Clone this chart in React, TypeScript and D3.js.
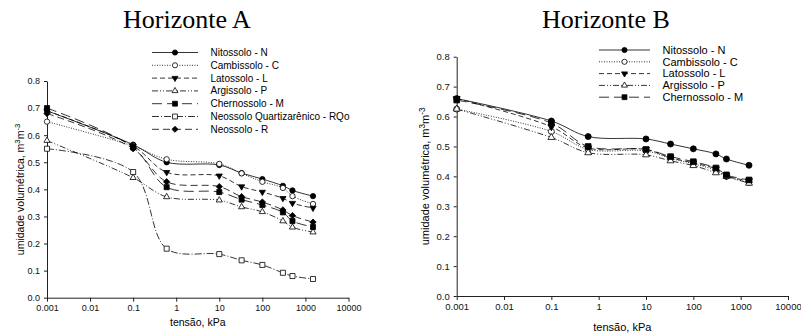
import React, { useEffect, useRef } from "react";
import * as d3 from "d3";

// tension (kPa) where the moisture was measured; 0.001 stands for saturation
const tensions = [0.001, 0.1, 0.6, 10, 33, 100, 300, 500, 1500];
const xTicks = [0.001, 0.01, 0.1, 1, 10, 100, 1000, 10000];
const yTicks = [0, 0.1, 0.2, 0.3, 0.4, 0.5, 0.6, 0.7, 0.8];

// Horizonte A
const legendA = [
  "Nitossolo - N",
  "Cambissolo - C",
  "Latossolo - L",
  "Argissolo - P",
  "Chernossolo - M",
  "Neossolo Quartizarênico - RQo",
  "Neossolo - R",
];
const nitossoloA = [0.69, 0.565, 0.5, 0.49, 0.46, 0.438, 0.413, 0.396, 0.375];
const cambissoloA = [0.65, 0.56, 0.511, 0.494, 0.459, 0.428, 0.405, 0.375, 0.346];
const latossoloA = [0.69, 0.56, 0.463, 0.45, 0.41, 0.39, 0.367, 0.349, 0.331];
const argissoloA = [0.58, 0.443, 0.372, 0.36, 0.335, 0.317, 0.283, 0.26, 0.242];
const chernossoloA = [0.7, 0.555, 0.408, 0.39, 0.362, 0.342, 0.315, 0.283, 0.261];
const quartzarenicoA = [0.55, 0.464, 0.181, 0.161, 0.138, 0.121, 0.092, 0.08, 0.069];
const neossoloA = [0.68, 0.55, 0.428, 0.41, 0.373, 0.353, 0.324, 0.303, 0.279];

// Horizonte B
const legendB = [
  "Nitossolo - N",
  "Cambissolo - C",
  "Latossolo - L",
  "Argissolo - P",
  "Chernossolo - M",
];
const nitossoloB = [0.66, 0.585, 0.533, 0.525, 0.508, 0.492, 0.475, 0.458, 0.437];
const cambissoloB = [0.625, 0.55, 0.49, 0.485, 0.46, 0.442, 0.42, 0.4, 0.38];
const latossoloB = [0.66, 0.566, 0.495, 0.49, 0.462, 0.445, 0.425, 0.402, 0.385];
const argissoloB = [0.625, 0.53, 0.479, 0.472, 0.452, 0.436, 0.412, 0.4, 0.377];
const chernossoloB = [0.655, 0.578, 0.5, 0.49, 0.466, 0.449, 0.428, 0.405, 0.388];

const FONT = "Arial, 'Liberation Sans', sans-serif";

// line / marker look per soil class
const looks = [
  { dash: null, symbol: d3.symbolCircle, size: 30, fill: "#000", rot: 0 },
  { dash: "1,1.5", symbol: d3.symbolCircle, size: 30, fill: "#fff", rot: 0 },
  { dash: "5,3", symbol: d3.symbolTriangle, size: 22, fill: "#000", rot: 180 },
  { dash: "6,2,1,2,1,2", symbol: d3.symbolTriangle, size: 22, fill: "#fff", rot: 0 },
  { dash: "10,5", symbol: d3.symbolSquare, size: 34, fill: "#000", rot: 0 },
  { dash: "7,2,1,2", symbol: d3.symbolSquare, size: 34, fill: "#fff", rot: 0 },
  { dash: "7,4", symbol: d3.symbolDiamond2, size: 34, fill: "#000", rot: 0 },
];

const panels = [
  {
    title: "Horizonte A",
    titleX: 187,
    left: 47,
    right: 348.5,
    top: 81,
    bottom: 297.7,
    legendX: 152,
    legendY: 52.5,
    legendStep: 12.8,
    legendLen: 46,
    legendFont: 10,
    labelFont: 10.5,
    tickFont: 9,
    markScale: 0.75,
    yLabelX: 24,
    xLabelY: 326,
    names: legendA,
    series: [nitossoloA, cambissoloA, latossoloA, argissoloA, chernossoloA, quartzarenicoA, neossoloA],
  },
  {
    title: "Horizonte B",
    titleX: 606,
    left: 456.7,
    right: 788,
    top: 56.7,
    bottom: 296,
    legendX: 599,
    legendY: 50,
    legendStep: 11.8,
    legendLen: 51,
    legendFont: 11,
    labelFont: 11,
    tickFont: 9.5,
    markScale: 0.95,
    yLabelX: 429,
    xLabelY: 331,
    names: legendB,
    series: [nitossoloB, cambissoloB, latossoloB, argissoloB, chernossoloB],
  },
];

export default function App() {
  const svgRef = useRef(null);

  useEffect(() => {
    const svg = d3.select(svgRef.current);
    svg.selectAll("*").remove();

    panels.forEach((p) => {
      const x = d3.scaleLog().domain([0.001, 10000]).range([p.left, p.right]);
      const y = d3.scaleLinear().domain([0, 0.8]).range([p.bottom, p.top]);
      const g = svg.append("g");

      g.append("text")
        .attr("x", p.titleX)
        .attr("y", 28)
        .attr("text-anchor", "middle")
        .attr("font-family", "'Liberation Serif', 'Times New Roman', serif")
        .attr("font-size", 26)
        .text(p.title);

      // axes
      const xAxis = g
        .append("g")
        .attr("transform", `translate(0,${p.bottom})`)
        .call(
          d3
            .axisBottom(x)
            .tickValues(xTicks)
            .tickFormat((d) => String(d))
            .tickSize(4)
            .tickSizeOuter(0)
            .tickPadding(3)
        );
      const yAxis = g
        .append("g")
        .attr("transform", `translate(${p.left},0)`)
        .call(
          d3
            .axisLeft(y)
            .tickValues(yTicks)
            .tickFormat(d3.format(".1f"))
            .tickSize(3)
            .tickSizeOuter(0)
            .tickPadding(4)
        );
      [xAxis, yAxis].forEach((a) => {
        a.attr("font-family", FONT).attr("font-size", p.tickFont);
        a.selectAll("path, line").attr("stroke", "#222");
        a.selectAll("text").attr("fill", "#111");
      });

      g.append("text")
        .attr("x", (p.left + p.right) / 2)
        .attr("y", p.xLabelY)
        .attr("text-anchor", "middle")
        .attr("font-family", FONT)
        .attr("font-size", p.labelFont)
        .text("tensão, kPa");

      const yl = g
        .append("text")
        .attr("transform", `translate(${p.yLabelX},${(p.top + p.bottom) / 2}) rotate(-90)`)
        .attr("text-anchor", "middle")
        .attr("font-family", FONT)
        .attr("font-size", p.labelFont);
      yl.append("tspan").text("umidade volumétrica, m");
      yl.append("tspan").attr("baseline-shift", "super").attr("font-size", "75%").text("3");
      yl.append("tspan").text("m");
      yl.append("tspan").attr("baseline-shift", "super").attr("font-size", "75%").text("-3");

      // series
      const line = d3
        .line()
        .x((d, i) => x(tensions[i]))
        .y((d) => y(d))
        .curve(d3.curveCatmullRom.alpha(0.5));

      p.series.forEach((values, k) => {
        const look = looks[k];
        g.append("path")
          .attr("d", line(values))
          .attr("fill", "none")
          .attr("stroke", "#000")
          .attr("stroke-width", 0.8)
          .attr("stroke-dasharray", look.dash);
      });

      p.series.forEach((values, k) => {
        const look = looks[k];
        const sym = d3.symbol().type(look.symbol).size(look.size * p.markScale);
        g.append("g")
          .selectAll("path")
          .data(values)
          .join("path")
          .attr("transform", (d, i) => `translate(${x(tensions[i])},${y(d)}) rotate(${look.rot})`)
          .attr("d", sym())
          .attr("fill", look.fill)
          .attr("stroke", "#000")
          .attr("stroke-width", 0.8);
      });

      // legend
      const legend = g
        .append("g")
        .selectAll("g")
        .data(p.names)
        .join("g")
        .attr("transform", (d, i) => `translate(${p.legendX},${p.legendY + i * p.legendStep})`);

      legend
        .append("line")
        .attr("x1", 0)
        .attr("x2", p.legendLen)
        .attr("stroke", "#000")
        .attr("stroke-width", 0.8)
        .attr("stroke-dasharray", (d, i) => looks[i].dash);

      legend
        .append("path")
        .attr("transform", (d, i) => `translate(${p.legendLen / 2},0) rotate(${looks[i].rot})`)
        .attr("d", (d, i) => d3.symbol().type(looks[i].symbol).size(looks[i].size * 0.7)())
        .attr("fill", (d, i) => looks[i].fill)
        .attr("stroke", "#000")
        .attr("stroke-width", 0.8);

      legend
        .append("text")
        .attr("x", p.legendLen + 12.5)
        .attr("dy", "0.35em")
        .attr("font-family", FONT)
        .attr("font-size", p.legendFont)
        .text((d) => d);
    });
  }, []);

  return (
    <div style={{ position: "absolute", left: 0, top: 0 }}>
      <svg ref={svgRef} width={801} height={336} style={{ display: "block", background: "#fff" }}></svg>
    </div>
  );
}
